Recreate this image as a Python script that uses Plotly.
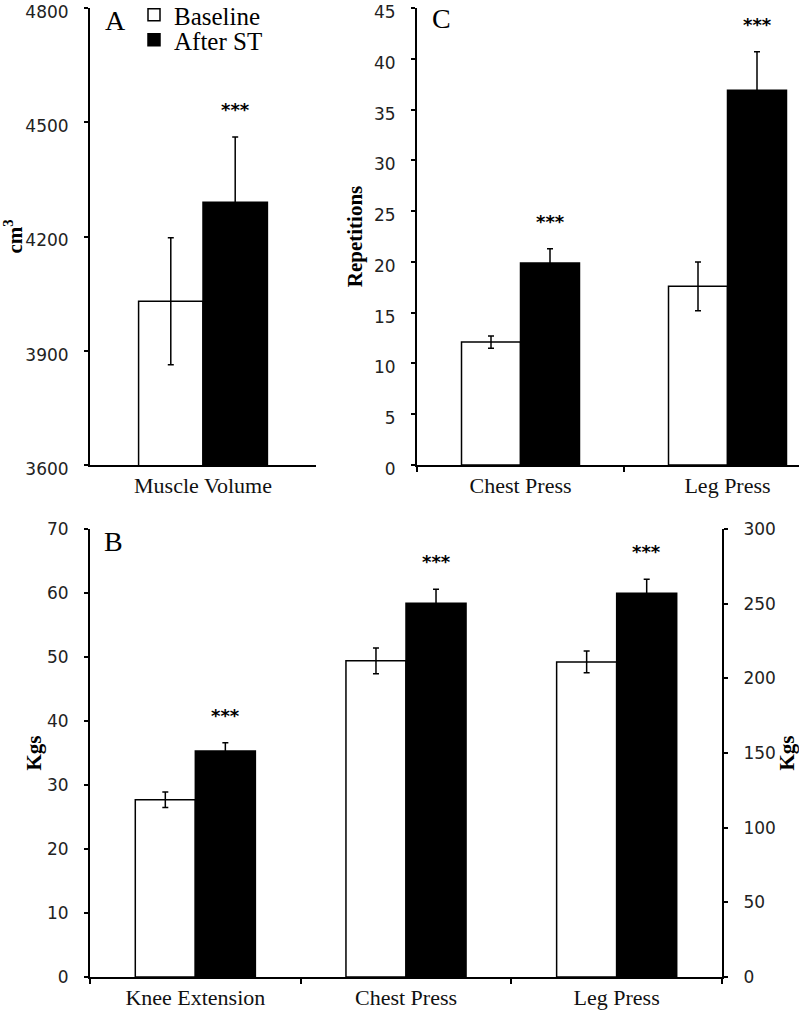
import plotly.graph_objects as go

# ---------------- data ----------------
series_names = ["Baseline", "After ST"]

cats_A = ["Muscle Volume"]
A_baseline = [4030]
A_baseline_err = [167]
A_after = [4290]
A_after_err = [171]

cats_C = ["Chest Press", "Leg Press"]
C_baseline = [12.1, 17.6]
C_baseline_err = [0.6, 2.4]
C_after = [19.9, 36.9]
C_after_err = [1.4, 3.8]

cats_B = ["Knee Extension", "Chest Press", "Leg Press"]
B_baseline = [27.7, 49.4, 211]
B_baseline_err = [1.2, 2.0, 7.3]
B_after = [35.3, 58.4, 257]
B_after_err = [1.3, 2.2, 9.4]
B_right_axis = [False, False, True]   # Leg Press plotted against right axis

stars = "***"

# ---------------- style ----------------
SERIF = "Liberation Serif"
SANS = "DejaVu Sans"
W = 0.285
LINE = dict(color="black", width=1.5)
ERR = dict(type="data", color="black", thickness=1.5, width=3, visible=True)

fig = go.Figure()


def add_pair(cats, base, base_err, after, after_err, xa, ya, legend):
    fig.add_trace(go.Bar(
        x=cats, y=base, name=series_names[0], xaxis=xa, yaxis=ya,
        offset=-W, width=W, marker=dict(color="white", line=LINE),
        error_y=dict(array=base_err, **ERR), showlegend=legend,
        legend="legend"))
    fig.add_trace(go.Bar(
        x=cats, y=after, name=series_names[1], xaxis=xa, yaxis=ya,
        offset=0, width=W, marker=dict(color="black", line=LINE),
        error_y=dict(array=after_err, **ERR), showlegend=legend,
        legend="legend2"))


# Panel A
add_pair(cats_A, A_baseline, A_baseline_err, A_after, A_after_err, "x", "y", True)
# Panel C
add_pair(cats_C, C_baseline, C_baseline_err, C_after, C_after_err, "x2", "y2", False)
# Panel B: left axis part and right axis part
left_idx = [i for i, r in enumerate(B_right_axis) if not r]
right_idx = [i for i, r in enumerate(B_right_axis) if r]
add_pair([cats_B[i] for i in left_idx], [B_baseline[i] for i in left_idx],
         [B_baseline_err[i] for i in left_idx], [B_after[i] for i in left_idx],
         [B_after_err[i] for i in left_idx], "x3", "y3", False)
add_pair([cats_B[i] for i in right_idx], [B_baseline[i] for i in right_idx],
         [B_baseline_err[i] for i in right_idx], [B_after[i] for i in right_idx],
         [B_after_err[i] for i in right_idx], "x3", "y4", False)

# ---------------- annotations ----------------
ann = []


def add_stars(cats, after, err, xref, yref_fn):
    for i, c in enumerate(cats):
        ann.append(dict(x=i + W / 2, y=after[i] + err[i], xref=xref, yref=yref_fn(i),
                        text="<b>" + stars + "</b>", showarrow=False, yanchor="bottom",
                        yshift=15, font=dict(family=SANS, size=18, color="black")))


add_stars(cats_A, A_after, A_after_err, "x", lambda i: "y")
add_stars(cats_C, C_after, C_after_err, "x2", lambda i: "y2")
add_stars(cats_B, B_after, B_after_err, "x3", lambda i: "y4" if B_right_axis[i] else "y3")

for letter, px, py in [("A", 115, 20), ("C", 441, 18), ("B", 113, 541)]:
    ann.append(dict(x=px / 799, y=1 - py / 1024, xref="paper", yref="paper",
                    text=letter, showarrow=False, xanchor="center", yanchor="middle",
                    font=dict(family=SERIF, size=28, color="black")))

# ---------------- axes ----------------
ax_common = dict(showline=True, linecolor="black", linewidth=2, showgrid=False,
                 zeroline=False, mirror=False, automargin=False)
xfont = dict(family=SERIF, size=22, color="#111")
yfont = dict(family=SANS, size=17, color="#222")
tfont = dict(family=SERIF, size=21, color="black")
ytick = dict(ticks="outside", ticklen=4, tickwidth=1.5, tickcolor="black",
             tickfont=yfont, ticklabelstandoff=12, ticklabeloverflow="allow")

top_dom = [1 - 465 / 1024, 1 - 8 / 1024]
bot_dom = [1 - 977 / 1024, 1 - 529 / 1024]
legfont = dict(family=SERIF, size=25, color="black")

fig.update_layout(
    width=799, height=1024,
    margin=dict(l=0, r=0, t=0, b=0, autoexpand=False),
    paper_bgcolor="white", plot_bgcolor="white",
    barmode="overlay",
    showlegend=True,
    legend=dict(x=134 / 799, y=1 - 15 / 1024, xanchor="left", yanchor="middle",
                font=legfont, bgcolor="rgba(0,0,0,0)", itemwidth=30),
    legend2=dict(x=134 / 799, y=1 - 40 / 1024, xanchor="left", yanchor="middle",
                 font=legfont, bgcolor="rgba(0,0,0,0)", itemwidth=30),
    annotations=ann,
    xaxis=dict(domain=[90 / 799, 316 / 799], anchor="y", type="category",
               range=[-0.5, 0.5], ticks="", tickfont=xfont, **ax_common),
    yaxis=dict(domain=top_dom, anchor="x", range=[3600, 4800],
               tickvals=[3600, 3900, 4200, 4500, 4800], ticklabelshift=4,
               title=dict(text="<b>cm<sup>3</sup></b>", font=tfont, standoff=10),
               **ytick, **ax_common),
    xaxis2=dict(domain=[417 / 799, 1.0], anchor="y2", type="category",
                categoryorder="array", categoryarray=cats_C,
                range=[-0.5, (799 - 417) / 207 - 0.5], ticks="outside", tickson="boundaries",
                ticklen=5, tickwidth=1.5, tickcolor="black", tickfont=xfont, **ax_common),
    yaxis2=dict(domain=top_dom, anchor="x2", range=[0, 45], dtick=5, ticklabelshift=4,
                title=dict(text="<b>Repetitions</b>", font=tfont, standoff=6),
                **ytick, **ax_common),
    xaxis3=dict(domain=[90 / 799, 722 / 799], anchor="y3", type="category",
                categoryorder="array", categoryarray=cats_B,
                range=[-0.5, 2.5], ticks="outside", tickson="boundaries",
                ticklen=5, tickwidth=1.5, tickcolor="black", tickfont=xfont, **ax_common),
    yaxis3=dict(domain=bot_dom, anchor="x3", range=[0, 70], dtick=10,
                title=dict(text="<b>Kgs</b>", font=tfont, standoff=0),
                **ytick, **ax_common),
    yaxis4=dict(domain=bot_dom, anchor="x3", overlaying="y3", side="right",
                range=[0, 300], dtick=50,
                title=dict(text="<b>Kgs</b>", font=tfont, standoff=8),
                **ytick, **ax_common),
)

fig.write_html("out.html", post_script="document.body.style.margin='0px';",
               config={"displayModeBar": False})
